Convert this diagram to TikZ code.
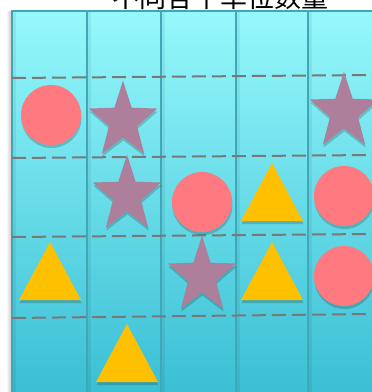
\documentclass[tikz,border=0pt]{standalone}
\usepackage{fontspec}
\newfontfamily\cjk{Noto Sans CJK SC}
\usepackage{tikz}
\usetikzlibrary{shapes.geometric,shadows}
\definecolor{dotred}{HTML}{FF7A80}
\definecolor{starmauve}{HTML}{AE7F9B}
\definecolor{triamber}{HTML}{FFC000}
\definecolor{coltop}{HTML}{96F8FC}
\definecolor{colbot}{HTML}{38BED3}
\definecolor{coledge}{HTML}{3FA8B8}
\definecolor{gridgray}{HTML}{787878}

\begin{document}
\begin{tikzpicture}[x=1pt, y=-1pt,
  softshadow/.style={drop shadow={shadow xshift=0.5pt, shadow yshift=-3pt, opacity=0.18, fill=black}},
  column/.style={draw=coledge, line width=1.8pt, top color=coltop, bottom color=colbot},
  rowline/.style={draw=gridgray, line width=2pt, dash pattern=on 14pt off 6pt},
  dot/.style={circle, fill=dotred, minimum size=60pt, inner sep=0pt, softshadow},
  starmark/.style={star, star points=5, star point ratio=2.45, fill=starmauve, minimum size=72pt, inner sep=0pt, softshadow},
  pics/markstar/.style={code={\node[starmark, yscale=1.12, transform shape] (-s) at (0,0) {};}},
  pics/marktri/.style={code={\fill[triamber, softshadow] (0,0) -- (31,58) -- (-31,58) -- cycle;}}]
\useasboundingbox (0,0) rectangle (372,392);
\clip (0,0) rectangle (372,392);
\shade[left color=white, right color=black!25] (6,11) rectangle (12.5,400);
\foreach \xa/\xb in {12/87, 87/161, 161/236, 236/308, 308/385}
  \draw[column] (\xa,11) rectangle (\xb,400);
\foreach \xa in {12, 87, 161, 236, 308}
  \fill[black, opacity=0.06] (\xa+1,12) rectangle (\xa+4,400);
\foreach \ya/\yb in {78/75, 158/155, 237/234, 318/314}
  \draw[rowline] (12,\ya) -- (372,\yb);
\node[font=\cjk\fontsize{27}{27}\selectfont, anchor=base, inner sep=0pt] (title) at (221,7) {不同各个单位数量};

\node[dot] (c11) at (51,115) {};
\node[dot] (c23) at (202,202) {};
\node[dot] (c25) at (344,196) {};
\node[dot] (c35) at (344,276) {};
\pic (s12) at (123,121) {markstar};
\pic (s15) at (344,112) {markstar};
\pic (s22) at (127,195) {markstar};
\pic (s33) at (202,276) {markstar};
\pic (t24) at (272,163) {marktri};
\pic (t31) at (50,242) {marktri};
\pic (t34) at (272,242) {marktri};
\pic (t42) at (127,324) {marktri};
\end{tikzpicture}
\end{document}
